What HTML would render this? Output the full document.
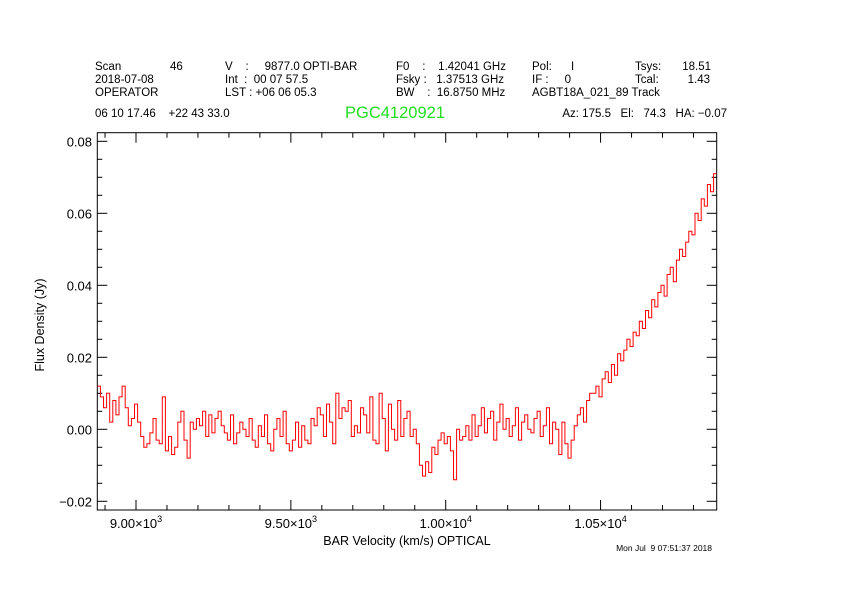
<!DOCTYPE html>
<html><head><meta charset="utf-8"><style>
body{margin:0;background:#fff;}
svg{display:block;font-family:"Liberation Sans",sans-serif;}
svg text{white-space:pre;}
</style></head><body>
<svg id="chart" width="842" height="595" viewBox="0 0 842 595" xml:space="preserve">
<rect width="842" height="595" fill="#fff"/>
<g font-size="11.5" fill="#000">
<text x="95" y="70">Scan</text>
<text x="170" y="70">46</text>
<text x="225" y="70">V    :     9877.0 OPTI-BAR</text>
<text x="396" y="70">F0    :    1.42041 GHz</text>
<text x="532" y="70">Pol:      I</text>
<text x="635" y="70">Tsys:</text>
<text x="711" y="70" text-anchor="end">18.51</text>
<text x="95" y="83">2018-07-08</text>
<text x="225" y="83">Int  :  00 07 57.5</text>
<text x="396" y="83">Fsky :   1.37513 GHz</text>
<text x="532" y="83">IF :     0</text>
<text x="635" y="83">Tcal:</text>
<text x="710" y="83" text-anchor="end">1.43</text>
<text x="95" y="96">OPERATOR</text>
<text x="225" y="96">LST : +06 06 05.3</text>
<text x="396" y="96">BW    :  16.8750 MHz</text>
<text x="532" y="96">AGBT18A_021_89 Track</text>
<text x="95" y="117">06 10 17.46    +22 43 33.0</text>
<text x="727" y="117" text-anchor="end">Az: 175.5   El:   74.3   HA: −0.07</text>
</g>
<text x="395" y="118" font-size="16.5" fill="#22dd22" text-anchor="middle">PGC4120921</text>
<g id="axes"></g>
<g id="series"></g>
<text x="407" y="545" font-size="12.5" text-anchor="middle">BAR Velocity (km/s) OPTICAL</text>
<text transform="translate(44,325) rotate(-90)" font-size="12.5" text-anchor="middle">Flux Density (Jy)</text>
<text x="712" y="551" font-size="8.5" text-anchor="end">Mon Jul  9 07:51:37 2018</text>
</svg>
<script>
const xStart = 8875;
const xStep = 10;
const fluxMJy = [
12,9,6,10,2,8,4,9,12,6,
1,3,7,2,-2,-5,-4,-1,3,-3,
-4,9,-6,-2,-7,-5,2,5,-3,-8,
2,0,3,1,5,-2,4,-1,3,5,
1,-1,-3,4,-4,-1,2,0,-2,3,
-3,-5,1,-2,4,-4,-6,0,3,-2,
5,-4,-6,-3,2,-5,1,-3,-4,3,
1,6,4,-2,7,2,-4,10,3,6,
5,8,-2,1,-1,6,4,-1,9,-3,
-4,10,3,-6,7,0,-3,8,-2,3,
5,-2,0,-4,-10,-13,-9,-12,-5,-7,
-3,-1,-4,-2,-6,-14,0,-3,-2,1,
-3,4,-2,1,6,-1,3,5,-3,2,
7,0,3,-2,1,6,-3,2,4,0,
-1,3,5,-2,1,6,-4,2,0,-7,
2,-4,-8,-3,1,4,6,2,8,10,
10,12,9,14,16,13,18,15,21,19,
22,25,23,27,26,30,28,33,31,36,
34,38,40,37,43,45,41,47,50,48,
52,55,54,60,58,64,62,68,66,71
];
const yTicks = [-0.02, 0.00, 0.02, 0.04, 0.06, 0.08];
const yTickLabels = ["−0.02","0.00","0.02","0.04","0.06","0.08"];
const xTicks = [9000, 9500, 10000, 10500];
const xTickMant = ["9.00","9.50","1.00","1.05"];
const xTickExp = ["3","3","4","4"];

const L=97.3,R=716.7,T=132.7,B=510;
const xMin=8875,xMax=10875;
function xs(v){return L+(v-xMin)/(xMax-xMin)*(R-L);}
function ys(v){return 429.3-(v-0)/0.02*72;}
const NS="http://www.w3.org/2000/svg";
const axes=document.getElementById('axes');
function ln(x1,y1,x2,y2,name){
  const l=document.createElementNS(NS,'line');
  l.setAttribute('x1',x1);l.setAttribute('y1',y1);l.setAttribute('x2',x2);l.setAttribute('y2',y2);
  l.setAttribute('stroke','#000');l.setAttribute('stroke-width','1');
  
  
  axes.appendChild(l);
}
const frame=document.createElementNS(NS,'rect');
frame.setAttribute('x',L);frame.setAttribute('y',T);frame.setAttribute('width',R-L);frame.setAttribute('height',B-T);
frame.setAttribute('fill','none');frame.setAttribute('stroke','#000');


axes.appendChild(frame);
for(let v=-0.02;v<=0.0801;v+=0.005){
  const y=ys(v);const major=Math.abs(Math.round(v/0.02)*0.02-v)<1e-6;
  const len=major?10:5;
  ln(L,y,L+len,y,'y-tick');ln(R,y,R-len,y,'y-tick-right');
}
yTicks.forEach((v,i)=>{
  const t=document.createElementNS(NS,'text');
  t.setAttribute('x',92);t.setAttribute('y',ys(v)+5);t.setAttribute('text-anchor','end');t.setAttribute('font-size','13');
  t.textContent=yTickLabels[i];
  
  
  axes.appendChild(t);
});
for(let v=8900;v<=10800;v+=100){
  const x=xs(v);const major=v%500===0;const len=major?10:5;
  ln(x,B,x,B-len,'x-tick');ln(x,T,x,T+len,'x-tick-top');
}
xTicks.forEach((v,i)=>{
  const t=document.createElementNS(NS,'text');
  t.setAttribute('x',xs(v));t.setAttribute('y',528);t.setAttribute('text-anchor','middle');t.setAttribute('font-size','13');
  t.innerHTML=xTickMant[i]+'×10<tspan dy="-6" font-size="9">'+xTickExp[i]+'</tspan>';
  
  
  axes.appendChild(t);
});
let d='';
fluxMJy.forEach((m,i)=>{
  const x0=xs(xStart+i*xStep), x1=xs(xStart+(i+1)*xStep), y=ys(m/1000);
  d+=(i===0?'M':'L')+x0.toFixed(1)+','+y.toFixed(1)+'L'+Math.min(x1,R).toFixed(1)+','+y.toFixed(1);
});
const p=document.createElementNS(NS,'path');
p.setAttribute('d',d);p.setAttribute('fill','none');p.setAttribute('stroke','#ff0000');p.setAttribute('stroke-width','1');


document.getElementById('series').appendChild(p);
</script>
</body></html>
